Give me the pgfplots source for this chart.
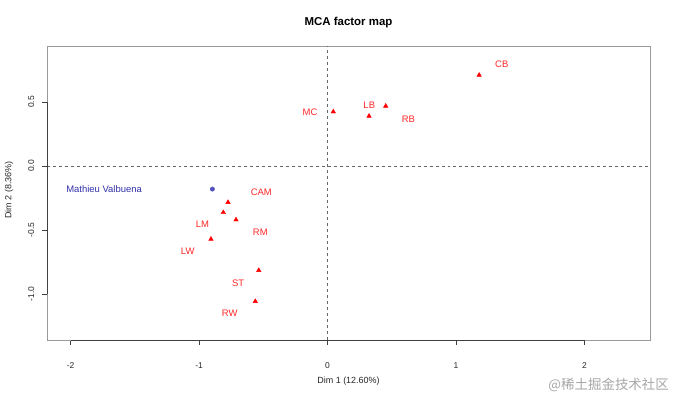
\documentclass[border=0pt]{standalone}
\usepackage{pgfplots}
\pgfplotsset{compat=1.18}
\usepackage{fontspec}
\setmainfont{Liberation Sans}
\newfontfamily\cjk{Noto Sans CJK SC}
\definecolor{labred}{RGB}{255,40,40}
\definecolor{indblue}{RGB}{50,50,170}
\definecolor{dotblue}{RGB}{80,80,190}
\begin{document}
\begin{tikzpicture}
\path[use as bounding box] (0bp,0bp) rectangle (675bp,-399bp);
\begin{axis}[
  at={(47bp,-340bp)}, anchor=south west,
  scale only axis, width=603.7bp, height=294bp,
  xmin=-2.183, xmax=2.515, ymin=-1.358, ymax=0.937,
  axis line style={black!40, line width=0.6pt},
  xtick={-2,-1,0,1,2}, ytick={-1,-0.5,0,0.5},
  tick pos=left, tick align=outside, major tick length=5bp,
  tick style={black!75, line width=0.6pt},
  ticklabel style={font=\fontsize{8.5}{10}\selectfont, text=black!85},
  /pgf/number format/assume math mode=true,
  yticklabel={\pgfmathprintnumber[fixed, fixed zerofill, precision=1]{\tick}},
  yticklabel style={rotate=90, anchor=south, inner ysep=7.5bp},
  xticklabel style={anchor=north, yshift=-14bp},
  clip=false,
]
\draw[dashed, black!60, line width=0.5pt] (axis cs:0,-1.358) -- (axis cs:0,0.937);
\draw[dashed, black!60, line width=0.5pt] (axis cs:-2.183,0) -- (axis cs:2.515,0);
\draw[black!75, line width=0.6pt] (axis cs:-2,-1.358) -- (axis cs:2,-1.358);
\draw[black!75, line width=0.6pt] (axis cs:-2.183,-1) -- (axis cs:-2.183,0.5);
% categories (triangles)
\addplot[only marks, mark=triangle*, mark size=2.6pt, color=red] coordinates {
  (1.18,0.71) (0.045,0.424) (0.323,0.39) (0.453,0.468)
  (-0.774,-0.283) (-0.811,-0.362) (-0.712,-0.419) (-0.907,-0.57)
  (-0.535,-0.814) (-0.562,-1.056)
};
% individual
\addplot[only marks, mark=*, mark size=2.2pt, color=dotblue, fill=dotblue] coordinates {(-0.896,-0.18)};
\begin{scope}[every node/.style={font=\fontsize{9.5}{11}\selectfont, text=labred, inner sep=0pt}]
\node at (axis cs:1.356,0.794) {CB};
\node at (axis cs:-0.136,0.422) {MC};
\node at (axis cs:0.325,0.476) {LB};
\node at (axis cs:0.629,0.369) {RB};
\node at (axis cs:-0.515,-0.208) {CAM};
\node at (axis cs:-0.974,-0.458) {LM};
\node at (axis cs:-0.523,-0.513) {RM};
\node at (axis cs:-1.088,-0.664) {LW};
\node at (axis cs:-0.696,-0.911) {ST};
\node at (axis cs:-0.761,-1.150) {RW};
\node[text=indblue] at (axis cs:-1.739,-0.18) {Mathieu Valbuena};
\end{scope}
\end{axis}
\node[font=\bfseries\fontsize{11.5}{13}\selectfont] at (348.5bp,-23bp) {MCA factor map};
\node[font=\fontsize{9}{10}\selectfont, text=black!85] at (348.5bp,-381bp) {Dim 1 (12.60\%)};
\node[font=\fontsize{9}{10}\selectfont, text=black!85, rotate=90] at (9bp,-190bp) {Dim 2 (8.36\%)};
\node[font=\cjk\fontsize{13.5}{15}\selectfont, text=black!35, anchor=east, inner sep=0pt] at (669bp,-385bp) {@稀土掘金技术社区};
\end{tikzpicture}
\end{document}
